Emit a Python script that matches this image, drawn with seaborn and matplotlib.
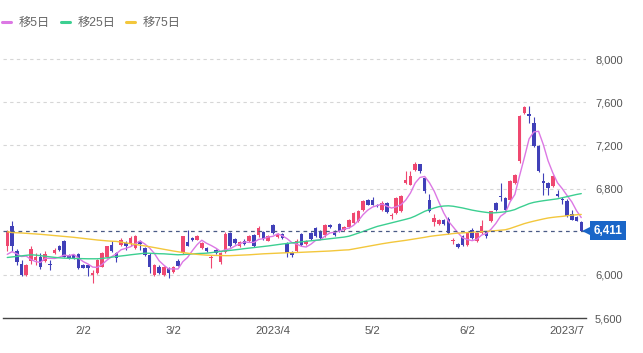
import numpy as np
import pandas as pd
import matplotlib
matplotlib.use("Agg")
import matplotlib.pyplot as plt
import seaborn as sns
from matplotlib.lines import Line2D

# ---- data -------------------------------------------------------------
holidays = ["2023-02-23", "2023-03-21", "2023-05-03", "2023-05-04", "2023-05-05"]
dates = [d for d in pd.bdate_range("2023-01-11", "2023-07-06")
         if d.strftime("%Y-%m-%d") not in holidays]

opens = [6263, 6449, 6217, 6100, 5995, 6130, 6140, 6170, 6124, 6095,
         6202, 6263, 6316, 6186, 6180, 6192, 6093, 6090, 6000, 6015,
         6077, 6170, 6279, 6201, 6279, 6295, 6285, 6248, 6316, 6248,
         6186, 6000, 6077, 6000, 6062, 6031, 6125, 6201, 6307, 6341,
         6325, 6248, 6248, 6155, 6232, 6115, 6210, 6385, 6330, 6270,
         6315, 6315, 6372, 6365, 6395, 6318, 6465, 6350, 6375, 6294,
         6210, 6225, 6380, 6290, 6387, 6434, 6410, 6365, 6465, 6400,
         6470, 6420, 6445, 6485, 6500, 6604, 6697, 6690, 6651, 6604,
         6666, 6542, 6573, 6589, 6853, 6837, 6976, 7023, 6899, 6697,
         6490, 6471, 6504, 6521, 6310, 6285, 6356, 6279, 6418, 6310,
         6387, 6403, 6496, 6666, 6735, 6713, 6697, 6852, 7054, 7504,
         7488, 7411, 7193, 6870, 6852, 6821, 6751, 6705, 6688, 6564,
         6533, 6490]
highs = [6420, 6496, 6242, 6137, 6100, 6267, 6200, 6198, 6220, 6140,
         6245, 6280, 6325, 6195, 6190, 6200, 6100, 6095, 6046, 6145,
         6210, 6270, 6310, 6210, 6340, 6316, 6356, 6370, 6325, 6260,
         6200, 6100, 6090, 6085, 6070, 6085, 6150, 6360, 6418, 6350,
         6365, 6300, 6260, 6185, 6240, 6210, 6395, 6395, 6345, 6315,
         6330, 6365, 6380, 6450, 6410, 6370, 6475, 6385, 6390, 6300,
         6220, 6330, 6390, 6320, 6395, 6440, 6420, 6470, 6475, 6420,
         6480, 6450, 6515, 6580, 6600, 6690, 6705, 6720, 6660, 6680,
         6675, 6575, 6720, 6740, 6961, 6961, 7045, 7030, 6910, 6745,
         6560, 6520, 6520, 6540, 6340, 6295, 6370, 6400, 6430, 6395,
         6510, 6410, 6595, 6675, 6852, 6720, 6875, 6935, 7480, 7566,
         7566, 7463, 7200, 6945, 6860, 6925, 6790, 6725, 6700, 6600,
         6545, 6500]
lows = [6217, 6217, 6093, 5985, 5985, 6102, 6093, 6050, 6115, 6047,
        6190, 6225, 6165, 6150, 6145, 6055, 6060, 5990, 5922, 6010,
        6070, 6160, 6215, 6120, 6265, 6232, 6270, 6240, 6232, 6175,
        6015, 5990, 6005, 5990, 5975, 6020, 6080, 6195, 6265, 6316,
        6320, 6240, 6210, 6062, 6190, 6100, 6205, 6255, 6285, 6260,
        6275, 6305, 6255, 6355, 6325, 6310, 6380, 6340, 6335, 6170,
        6165, 6215, 6270, 6280, 6325, 6350, 6335, 6355, 6435, 6360,
        6395, 6410, 6435, 6475, 6490, 6595, 6645, 6645, 6630, 6595,
        6575, 6520, 6565, 6580, 6840, 6830, 6965, 6945, 6760, 6580,
        6455, 6460, 6465, 6380, 6285, 6245, 6270, 6270, 6330, 6300,
        6380, 6345, 6490, 6595, 6682, 6600, 6690, 6845, 7040, 7495,
        7411, 7185, 6950, 6744, 6744, 6815, 6720, 6655, 6540, 6505,
        6495, 6405]
closes = [6403, 6263, 6118, 5995, 6093, 6239, 6170, 6077, 6192, 6088,
          6232, 6232, 6170, 6160, 6155, 6062, 6068, 6062, 6015, 6139,
          6201, 6263, 6223, 6155, 6325, 6263, 6341, 6356, 6285, 6186,
          6077, 6093, 6015, 6077, 6015, 6077, 6085, 6356, 6272, 6325,
          6356, 6294, 6217, 6170, 6198, 6200, 6380, 6263, 6294, 6305,
          6285, 6356, 6263, 6437, 6333, 6364, 6387, 6380, 6345, 6201,
          6180, 6318, 6279, 6310, 6333, 6356, 6341, 6465, 6445, 6372,
          6403, 6440, 6505, 6574, 6589, 6682, 6651, 6651, 6635, 6666,
          6583, 6558, 6713, 6729, 6883, 6914, 7023, 6967, 6775, 6589,
          6527, 6511, 6471, 6388, 6325, 6254, 6279, 6387, 6341, 6387,
          6449, 6356, 6589, 6604, 6720, 6604, 6868, 6930, 7473, 7557,
          7473, 7193, 6961, 6855, 6806, 6914, 6728, 6690, 6542, 6511,
          6502, 6411]

ma5 = [6190, 6215, 6195, 6170, 6174, 6142, 6123, 6115, 6154, 6153,
       6152, 6164, 6183, 6176, 6190, 6156, 6123, 6101, 6072, 6069,
       6097, 6136, 6168, 6196, 6233, 6246, 6261, 6288, 6314, 6286,
       6249, 6199, 6131, 6090, 6055, 6055, 6054, 6122, 6161, 6223,
       6279, 6321, 6293, 6272, 6247, 6216, 6233, 6242, 6267, 6288,
       6305, 6301, 6301, 6329, 6335, 6351, 6357, 6380, 6362, 6335,
       6299, 6285, 6265, 6258, 6284, 6319, 6324, 6361, 6388, 6396,
       6405, 6425, 6433, 6459, 6502, 6558, 6600, 6629, 6642, 6657,
       6637, 6619, 6631, 6650, 6693, 6759, 6852, 6903, 6912, 6854,
       6776, 6674, 6575, 6497, 6444, 6390, 6343, 6327, 6317, 6330,
       6369, 6384, 6424, 6477, 6544, 6575, 6677, 6745, 6919, 7086,
       7260, 7325, 7331, 7208, 7058, 6946, 6853, 6799, 6736, 6677,
       6595, 6531]
ma25 = [6161, 6166, 6171, 6176, 6181, 6186, 6183, 6178, 6172, 6167,
        6162, 6158, 6155, 6153, 6152, 6151, 6150, 6149, 6149, 6149,
        6152, 6158, 6164, 6170, 6175, 6180, 6186, 6191, 6196, 6201,
        6200, 6198, 6196, 6195, 6192, 6189, 6186, 6188, 6191, 6194,
        6197, 6199, 6201, 6206, 6212, 6217, 6222, 6227, 6232, 6237,
        6243, 6248, 6253, 6258, 6263, 6268, 6274, 6280, 6286, 6291,
        6296, 6301, 6306, 6311, 6316, 6320, 6325, 6330, 6335, 6340,
        6345, 6350, 6358, 6372, 6387, 6402, 6418, 6434, 6449, 6460,
        6471, 6482, 6493, 6504, 6515, 6527, 6545, 6567, 6589, 6605,
        6620, 6632, 6638, 6640, 6636, 6628, 6620, 6610, 6600, 6592,
        6585, 6579, 6574, 6576, 6580, 6585, 6593, 6605, 6625, 6642,
        6660, 6672, 6680, 6687, 6693, 6699, 6705, 6715, 6725, 6735,
        6745, 6753]
ma75 = [6400, 6392, 6390, 6388, 6385, 6382, 6379, 6376, 6372, 6368,
        6364, 6360, 6356, 6352, 6348, 6343, 6338, 6333, 6328, 6323,
        6319, 6315, 6312, 6310, 6303, 6296, 6289, 6282, 6275, 6268,
        6261, 6253, 6245, 6237, 6229, 6221, 6214, 6207, 6201, 6195,
        6190, 6186, 6183, 6181, 6180, 6179, 6178, 6178, 6180, 6182,
        6184, 6186, 6189, 6192, 6195, 6197, 6199, 6201, 6203, 6205,
        6206, 6207, 6209, 6211, 6213, 6215, 6217, 6219, 6221, 6224,
        6227, 6230, 6232, 6240, 6248, 6256, 6264, 6272, 6280, 6288,
        6295, 6302, 6308, 6314, 6320, 6327, 6334, 6341, 6348, 6356,
        6362, 6367, 6372, 6377, 6383, 6387, 6389, 6392, 6395, 6398,
        6400, 6403, 6406, 6410, 6414, 6418, 6430, 6445, 6460, 6475,
        6487, 6498, 6508, 6518, 6527, 6533, 6538, 6542, 6548, 6553,
        6557, 6560]

ma_labels = ["移5日", "移25日", "移75日"]
ma_colors = ["#dc78e4", "#3ccf91", "#f3c73c"]
tick_dates = ["2023-02-02", "2023-03-02", "2023-04-03", "2023-05-02", "2023-06-02", "2023-07-03"]
tick_labels = ["2/2", "3/2", "2023/4", "5/2", "6/2", "2023/7"]
y_ticks = [5600, 6000, 6800, 7200, 7600, 8000]
last_price = closes[-1]

# ---- style ------------------------------------------------------------
sns.set_style("white")
plt.rcParams["font.family"] = ["Liberation Sans", "Noto Sans CJK JP"]

UP, DOWN = "#ef4870", "#4040b8"
TAG = "#1a66c8"

fig = plt.figure(figsize=(6.43, 3.53), dpi=100)
ax = fig.add_axes([3 / 643, 35 / 353, 583 / 643, 274 / 353])

df = pd.DataFrame({"date": dates, "open": opens, "high": highs,
                   "low": lows, "close": closes})
df["x"] = np.arange(len(df))
up = df["close"] >= df["open"]
cols = np.where(up, UP, DOWN)

# wicks and bodies
ax.vlines(df["x"], df["low"], df["high"], colors=cols, lw=0.8, zorder=3)
body_bottom = np.minimum(df["open"], df["close"])
body_h = np.maximum((df["close"] - df["open"]).abs(), 8)
ax.bar(df["x"], body_h, bottom=body_bottom, width=0.74, color=cols,
       linewidth=0, zorder=4)

# moving averages via seaborn
ma_df = pd.DataFrame({"x": df["x"], ma_labels[0]: ma5,
                      ma_labels[1]: ma25, ma_labels[2]: ma75})
ma_long = ma_df.melt(id_vars="x", var_name="series", value_name="value")
sns.lineplot(data=ma_long, x="x", y="value", hue="series",
             hue_order=ma_labels, palette=ma_colors, linewidth=1.0,
             legend=False, ax=ax, sort=False, zorder=5)

# last price line
ax.axhline(last_price, color="#4a5a86", lw=0.9, ls=(0, (3, 3)), zorder=6)

# axes config
ax.set_xlim(-0.9, 122.0)
ax.set_ylim(5600, 8140)
tick_pos = [dates.index(pd.Timestamp(t)) for t in tick_dates]
ax.set_xticks(tick_pos)
ax.set_xticklabels(tick_labels)
ax.set_yticks(y_ticks)
ax.set_yticklabels([f"{v:,}" for v in y_ticks])
ax.yaxis.tick_right()
ax.tick_params(axis="y", length=0, pad=6.5, labelsize=8, labelcolor="#555555")
ax.tick_params(axis="x", length=0, pad=6, labelsize=8.2, labelcolor="#555555")
ax.set_xlabel("")
ax.set_ylabel("")
ax.yaxis.grid(True, color="#d6d6d6", lw=0.8, ls=(0, (3, 3)))
ax.xaxis.grid(False)
ax.set_axisbelow(True)
for s in ["top", "left", "right"]:
    ax.spines[s].set_visible(False)
ax.spines["bottom"].set_color("#444444")
ax.spines["bottom"].set_linewidth(1.0)

# last price tag: small pointer + square box
ax.plot([1.0], [last_price], marker="<", markersize=5.5, color=TAG,
        transform=ax.get_yaxis_transform(), clip_on=False, zorder=9,
        markeredgewidth=0)
ax.annotate(f"{last_price:,}", xy=(1.0, last_price),
            xycoords=("axes fraction", "data"), xytext=(5.5, 0),
            textcoords="offset points", ha="left", va="center",
            color="white", fontsize=8.5, fontweight="bold",
            bbox=dict(boxstyle="square,pad=0.28", fc=TAG, ec="none"),
            annotation_clip=False, zorder=10)

# legend
handles = [Line2D([0], [0], color=c, lw=2.2) for c in ma_colors]
fig.legend(handles, ma_labels, loc="center left",
           bbox_to_anchor=(2 / 643, 1 - 23 / 353), ncol=3, frameon=False,
           handlelength=0.75, handletextpad=0.6, columnspacing=0.9,
           fontsize=8.8, labelcolor="#666666", borderaxespad=0, borderpad=0)

fig.savefig("out.png", dpi=100)
